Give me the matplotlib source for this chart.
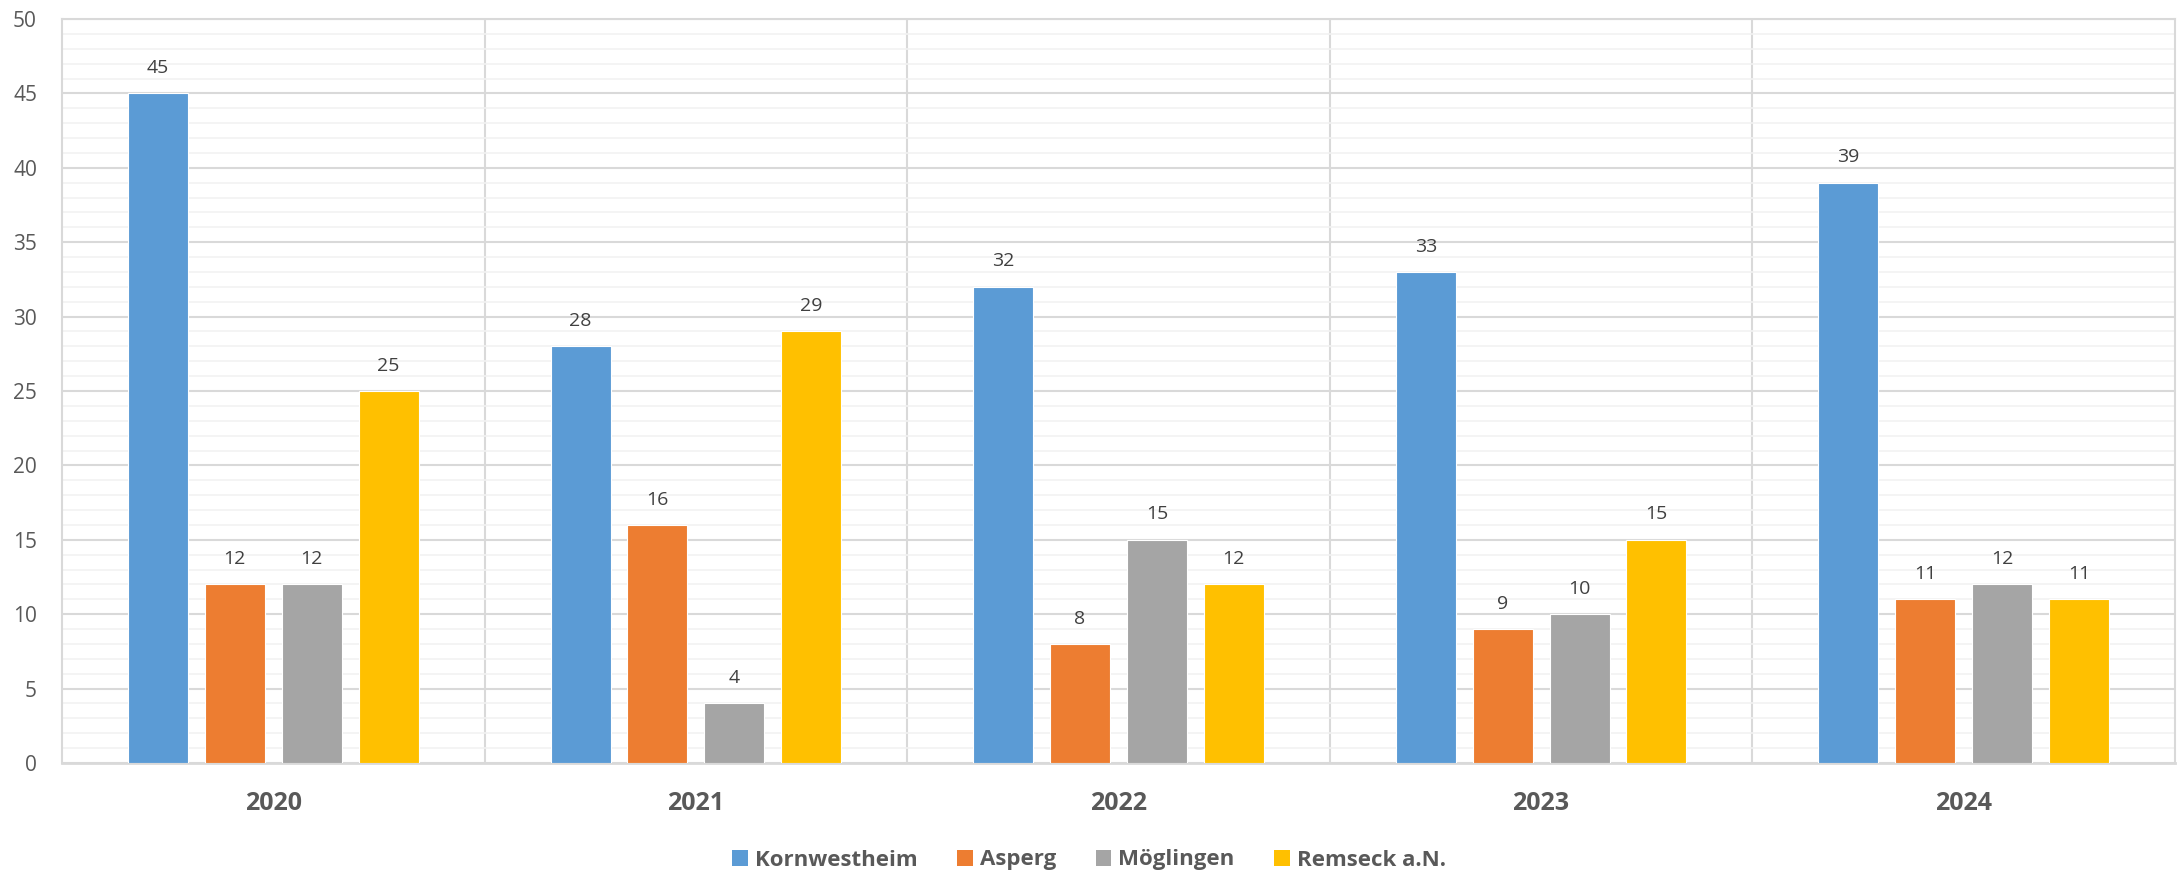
import numpy as np
import matplotlib
matplotlib.use("Agg")
import matplotlib.pyplot as plt
from matplotlib.patches import Patch

years = ["2020", "2021", "2022", "2023", "2024"]
series = ["Kornwestheim", "Asperg", "Möglingen", "Remseck a.N."]
kornwestheim = [45, 28, 32, 33, 39]
asperg = [12, 16, 8, 9, 11]
moeglingen = [12, 4, 15, 10, 12]
remseck = [25, 29, 12, 15, 11]
colors = ["#5B9BD5", "#ED7D31", "#A5A5A5", "#FFC000"]
values = [kornwestheim, asperg, moeglingen, remseck]

plt.rcParams['font.family'] = ['Open Sans', 'DejaVu Sans']
text_col = "#595959"

fig = plt.figure(figsize=(21.78, 8.77), dpi=100)
ax = fig.add_axes([62 / 2178, 1 - 763 / 877, (2175 - 62) / 2178, (763 - 19) / 877])

x = np.arange(len(years))
width = 0.142
pitch = 0.182
for i, (vals, c) in enumerate(zip(values, colors)):
    pos = x + (i - 1.5) * pitch
    bars = ax.bar(pos, vals, width, color=c, edgecolor="white", linewidth=0.8, zorder=3)
    for b, v in zip(bars, vals):
        ax.text(b.get_x() + b.get_width() / 2, v + 1.1, str(v), ha="center", va="bottom",
                fontsize=14, color="#404040")

ax.set_xlim(-0.5, len(years) - 0.5)
ax.set_ylim(0, 50)
ax.set_yticks(np.arange(0, 51, 5))
ax.set_yticks(np.arange(0, 51, 1), minor=True)
ax.grid(axis="y", which="major", color="#D9D9D9", linewidth=1.5, zorder=0)
ax.grid(axis="y", which="minor", color="#F2F2F2", linewidth=1.2, zorder=0)
for s in np.arange(0.5, len(years) - 0.5, 1):
    ax.axvline(s, color="#D9D9D9", linewidth=1.5, zorder=1)

ax.set_xticks(x)
ax.set_xticklabels(years, fontsize=18, fontweight="bold", color=text_col)
ax.tick_params(axis="x", length=0, pad=20)
ax.tick_params(axis="y", which="both", length=0, labelsize=15, labelcolor=text_col, pad=18)
for side in ["top", "right", "left"]:
    ax.spines[side].set_color("#D9D9D9")
    ax.spines[side].set_linewidth(1.5)
ax.spines["bottom"].set_color("#D9D9D9")
ax.spines["bottom"].set_linewidth(2)

handles = [Patch(facecolor=c, label=s) for c, s in zip(colors, series)]
leg = fig.legend(handles=handles, loc="center", bbox_to_anchor=(0.5, 1 - 860 / 877), ncol=4,
                 frameon=False, handlelength=0.7, handleheight=0.7, handletextpad=0.3,
                 columnspacing=1.8, prop={"size": 16, "weight": "bold"})
for t in leg.get_texts():
    t.set_color(text_col)

fig.savefig("out.png", dpi=100, facecolor="white")
